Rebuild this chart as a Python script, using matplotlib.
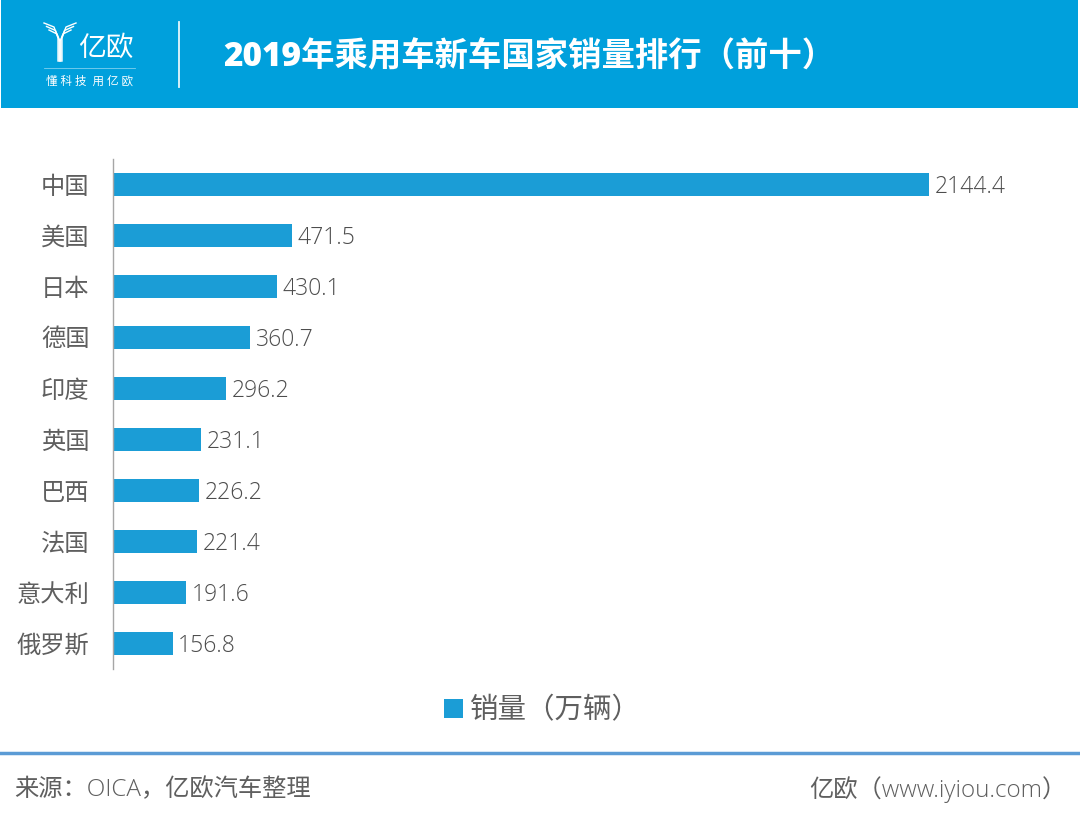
import matplotlib
matplotlib.use('Agg')
from matplotlib import pyplot as plt
from matplotlib.patches import Rectangle

plt.rcParams['font.family'] = ['Open Sans', 'Noto Sans CJK SC', 'DejaVu Sans']

countries = ['中国', '美国', '日本', '德国', '印度', '英国', '巴西', '法国', '意大利', '俄罗斯']
sales = [2144.4, 471.5, 430.1, 360.7, 296.2, 231.1, 226.2, 221.4, 191.6, 156.8]
title = '2019年乘用车新车国家销量排行（前十）'
legend_label = '销量（万辆）'
source = '来源：OICA，亿欧汽车整理'
credit = '亿欧（www.iyiou.com）'

blue = '#1b9dd6'
header_blue = '#00a0dc'
grey = '#5f5f5f'
W, H = 1080, 823

fig = plt.figure(figsize=(W / 100, H / 100), dpi=100)

# overlay in pixel coords for the header and footer
bg = fig.add_axes([0, 0, 1, 1])
bg.set_xlim(0, W)
bg.set_ylim(H, 0)
bg.axis('off')
bg.add_patch(Rectangle((1, 0), 1077, 108, color=header_blue, lw=0))
bg.plot([179, 179], [22, 87], color='white', lw=1.3, alpha=0.9)
bg.plot([0, 1078], [753, 753], color='#5b9bd5', lw=2.5)

# logo, rough: three nested strokes of the Y
for dx, dy in [(0, 0), (2.5, 3.5), (5, 7)]:
    bg.plot([44 + dx, 54 + dx * 0.6, 58 + dx * 0.4, 58 + dx * 0.4],
            [23 + dy, 27 + dy, 38 + dy * 0.5, 61], color='white', lw=1)
    bg.plot([76 - dx, 66 - dx * 0.6, 62 - dx * 0.4, 62 - dx * 0.4],
            [23 + dy, 27 + dy, 38 + dy * 0.5, 61], color='white', lw=1)
bg.text(106, 49, '亿欧', color='white', fontsize=20, ha='center', va='center', fontweight='light')
bg.plot([44, 135], [68, 68], color='#7fd0ee', lw=0.6)
bg.text(89, 81, '懂 科 技  用 亿 欧', color='white', fontsize=8.3, ha='center', va='center')

bg.text(223, 57, title, color='white', fontsize=24, fontweight='black', va='center', ha='left')

bg.add_patch(Rectangle((444, 699), 19, 19, color=blue, lw=0))
bg.text(470, 711, legend_label, color=grey, fontsize=20.5, va='center', ha='left', fontweight='light')
bg.text(14, 790, source, color=grey, fontsize=17.5, va='center', ha='left', fontweight='light')
bg.text(809, 790, credit, color=grey, fontsize=17.5, va='center', ha='left', fontweight='light')

# bars
left, right, top, bottom = 113, 1003, 159, 669
ax = fig.add_axes([left / W, 1 - bottom / H, (right - left) / W, (bottom - top) / H])
ypos = list(range(len(countries)))
ax.barh(ypos, sales, height=0.46, color=blue)
ax.set_ylim(len(countries) - 0.5, -0.5)
ax.set_xlim(0, 2144.4 * (right - left) / 816)
ax.set_yticks(ypos)
ax.set_yticklabels(countries, fontsize=17.5, color=grey, fontweight='light')
ax.tick_params(axis='y', length=0, pad=17)
ax.set_xticks([])
for s in ['top', 'right', 'bottom']:
    ax.spines[s].set_visible(False)
ax.spines['left'].set_color('#a6a6a6')
ax.spines['left'].set_linewidth(1)
ax.patch.set_alpha(0)

for y, v in zip(ypos, sales):
    ax.annotate(f'{v}', (v, y), xytext=(4, -1.5), textcoords='offset points',
                va='center', ha='left', fontsize=16.5, color='#4d4d4d', fontweight='light')

fig.savefig('out.png', dpi=100)
